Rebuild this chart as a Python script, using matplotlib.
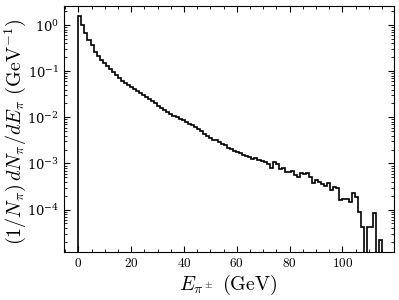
import matplotlib
matplotlib.use('Agg')
import matplotlib.pyplot as plt
import numpy as np
from matplotlib.ticker import MultipleLocator, FuncFormatter

plt.rcParams['mathtext.fontset'] = 'cm'
plt.rcParams['font.family'] = 'serif'
plt.rcParams['font.serif'] = ['DejaVu Serif']
plt.rcParams['axes.formatter.use_mathtext'] = True

# histogram range and bin count (GeV)
e_min, e_max, n_bins = 0.0, 115.0, 100

# normalised pion energy spectrum, one value per bin
dn_de = [
    1.57, 1.0, 0.67, 0.47, 0.37, 0.26, 0.21, 0.175, 0.15, 0.128,
    0.111, 0.095, 0.082, 0.071, 0.062, 0.055, 0.050, 0.045, 0.041, 0.037,
    0.0335, 0.0305, 0.0275, 0.025, 0.0226, 0.0205, 0.018, 0.0158, 0.0141, 0.0129,
    0.0118, 0.0108, 0.0100, 0.0093, 0.0086, 0.0079, 0.0073, 0.0068, 0.0062, 0.0056,
    0.0050, 0.0044, 0.0040, 0.0036, 0.0032, 0.0033, 0.0029, 0.0026, 0.0025, 0.0022,
    0.0021, 0.0019, 0.0018, 0.0017, 0.0015, 0.00142, 0.00137, 0.00128, 0.0013, 0.0012,
    0.00114, 0.00108, 0.00098, 0.00080, 0.00107, 0.00095, 0.00074, 0.0008, 0.00066, 0.00066,
    0.0007, 0.00056, 0.00052, 0.00062, 0.00058, 0.00062, 0.0005, 0.00038, 0.00043, 0.0004,
    0.00036, 0.00033, 0.00038, 0.00027, 0.00031, 0.0003, 0.00016, 0.00017, 0.00017, 0.000144,
    0.000226, 0.000185, 0.000087, 0.000041, 0.0, 0.000041, 0.000041, 0.000085, 0.0, 0.000022,
]

edges = np.linspace(e_min, e_max, n_bins + 1)
vals = np.array(dn_de)
vals = np.where(vals > 0, vals, 1e-12)

fig = plt.figure(figsize=(3.99, 3.0), dpi=100)
ax = fig.add_axes([0.160, 0.16, 0.827, 0.82])
ax.stairs(vals, edges, baseline=1e-12, color='black', lw=1.2)

ax.set_yscale('log')
ax.set_xlim(-5.5, 119.5)
ax.set_ylim(1.2e-5, 2.6)

ax.xaxis.set_major_locator(MultipleLocator(20))
ax.xaxis.set_minor_locator(MultipleLocator(5))
ax.xaxis.set_major_formatter(FuncFormatter(lambda v, p: r'$%d$' % v))
ax.tick_params(which='both', direction='in', top=True, right=True, labelsize=9.5)
ax.tick_params(which='major', length=4)
ax.tick_params(which='minor', length=2)

ax.set_xlabel(r'$E_{\pi^\pm}\ (\mathrm{GeV})$', fontsize=14.5, labelpad=2)
ax.set_ylabel(r'$(1/N_\pi)\, dN_\pi/dE_\pi\ (\mathrm{GeV}^{-1})$', fontsize=14.5)
ax.yaxis.set_label_coords(-0.108, 0.49)

fig.savefig('out.png', dpi=100)
